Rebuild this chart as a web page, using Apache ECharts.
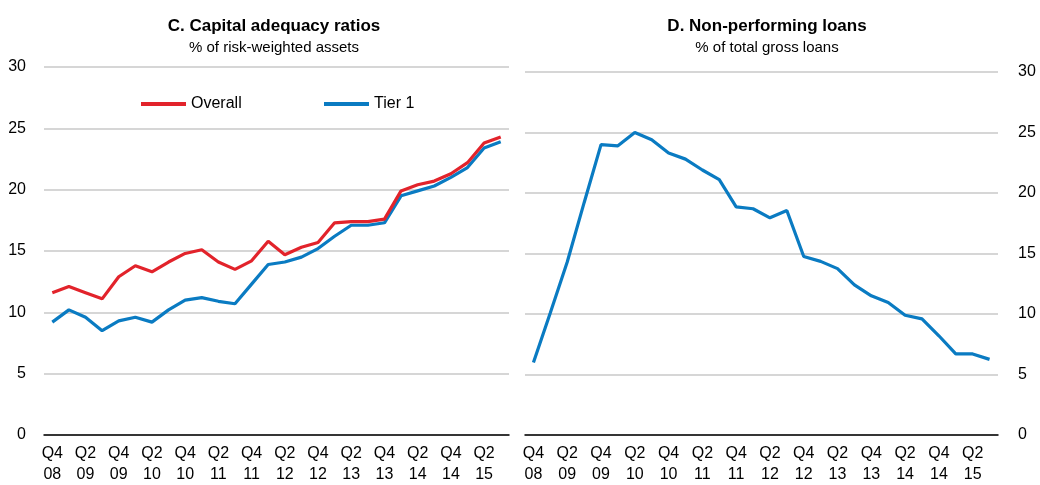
<!DOCTYPE html>
<html>
<head>
<meta charset="utf-8">
<script src="https://cdn.jsdelivr.net/npm/echarts@6/dist/echarts.min.js"></script>
<style>
  html, body { margin: 0; padding: 0; background: #fff; }
  #chart { width: 1040px; height: 485px; }
</style>
</head>
<body>
<div id="chart"></div>
<script>
// quarters, Q4 2008 .. Q3 2015
const quarters = [
  'Q4 08', 'Q1 09', 'Q2 09', 'Q3 09', 'Q4 09', 'Q1 10', 'Q2 10', 'Q3 10',
  'Q4 10', 'Q1 11', 'Q2 11', 'Q3 11', 'Q4 11', 'Q1 12', 'Q2 12', 'Q3 12',
  'Q4 12', 'Q1 13', 'Q2 13', 'Q3 13', 'Q4 13', 'Q1 14', 'Q2 14', 'Q3 14',
  'Q4 14', 'Q1 15', 'Q2 15', 'Q3 15'
];
const yTicks = [0, 5, 10, 15, 20, 25, 30];

// C. Capital adequacy ratios, % of risk-weighted assets
const overall = [
  11.6, 12.1, 11.6, 11.1, 12.9, 13.8, 13.3, 14.1, 14.8, 15.1, 14.1, 13.5, 14.2, 15.8,
  14.7, 15.3, 15.7, 17.3, 17.4, 17.4, 17.6, 19.9, 20.4, 20.7, 21.3, 22.2, 23.8, 24.3
];
const tier1 = [
  9.2, 10.2, 9.6, 8.5, 9.3, 9.6, 9.2, 10.2, 11.0, 11.2, 10.9, 10.7, 12.3, 13.9,
  14.1, 14.5, 15.2, 16.2, 17.1, 17.1, 17.3, 19.5, 19.9, 20.3, 21.0, 21.8, 23.4, 23.9
];

// D. Non-performing loans, % of total gross loans
const npl = [
  6.0, 10.1, 14.3, 19.2, 24.0, 23.9, 25.0, 24.4, 23.3, 22.8, 21.9, 21.1, 18.85, 18.7,
  17.95, 18.55, 14.75, 14.35, 13.75, 12.4, 11.5, 10.95, 9.9, 9.6, 8.2, 6.7, 6.7, 6.25
];

const RED = '#e2232b';
const BLUE = '#0a7bc2';
const FONT = "'Liberation Sans', Arial, sans-serif";

const chart = echarts.init(document.getElementById('chart'));

const xAxisBase = {
  type: 'category',
  data: quarters,
  boundaryGap: true,
  axisLine: { lineStyle: { color: '#000', width: 1.5 } },
  axisTick: { inside: true, length: 5, interval: 0, lineStyle: { color: '#000', width: 1.5 } },
  axisLabel: {
    interval: 1,
    color: '#000',
    fontFamily: FONT,
    fontSize: 16,
    lineHeight: 21,
    margin: 8,
    formatter: (v) => v.replace(' ', '\n')
  },
  splitLine: { show: false }
};

const yAxisBase = {
  type: 'value',
  min: yTicks[0],
  max: yTicks[yTicks.length - 1],
  interval: 5,
  axisLine: { show: false },
  axisTick: { show: false },
  axisLabel: { color: '#000', fontFamily: FONT, fontSize: 16, margin: 18 },
  splitLine: { lineStyle: { color: '#c9c9c9', width: 1.5 } }
};

const option = {
  animation: false,
  backgroundColor: '#fff',
  textStyle: { fontFamily: FONT },
  title: [
    {
      text: 'C. Capital adequacy ratios',
      subtext: '% of risk-weighted assets',
      left: 274, top: 18, textAlign: 'center', padding: 0, itemGap: 5,
      textStyle: { fontFamily: FONT, fontSize: 17, fontWeight: 'bold', color: '#000' },
      subtextStyle: { fontFamily: FONT, fontSize: 15, color: '#000' }
    },
    {
      text: 'D. Non-performing loans',
      subtext: '% of total gross loans',
      left: 767, top: 18, textAlign: 'center', padding: 0, itemGap: 5,
      textStyle: { fontFamily: FONT, fontSize: 17, fontWeight: 'bold', color: '#000' },
      subtextStyle: { fontFamily: FONT, fontSize: 15, color: '#000' }
    }
  ],
  legend: [
    {
      data: ['Overall'], left: 141, top: 96, padding: 0,
      icon: 'rect', itemWidth: 45, itemHeight: 4, itemGap: 6,
      textStyle: { fontFamily: FONT, fontSize: 16, color: '#000' }
    },
    {
      data: ['Tier 1'], left: 324, top: 96, padding: 0,
      icon: 'rect', itemWidth: 45, itemHeight: 4, itemGap: 6,
      textStyle: { fontFamily: FONT, fontSize: 16, color: '#000' }
    }
  ],
  grid: [
    { left: 44, top: 67, width: 465, height: 370 },
    { left: 525, top: 72, width: 473, height: 369 }
  ],
  xAxis: [
    Object.assign({}, xAxisBase, { gridIndex: 0 }),
    Object.assign({}, xAxisBase, { gridIndex: 1 })
  ],
  yAxis: [
    Object.assign({}, yAxisBase, { gridIndex: 0, position: 'left' }),
    Object.assign({}, yAxisBase, {
      gridIndex: 1, position: 'right',
      axisLabel: Object.assign({}, yAxisBase.axisLabel, { margin: 20 })
    })
  ],
  series: [
    {
      name: 'Overall', type: 'line', xAxisIndex: 0, yAxisIndex: 0,
      data: overall, showSymbol: false, color: RED,
      lineStyle: { width: 3.2, color: RED }, z: 3
    },
    {
      name: 'Tier 1', type: 'line', xAxisIndex: 0, yAxisIndex: 0,
      data: tier1, showSymbol: false, color: BLUE,
      lineStyle: { width: 3.2, color: BLUE }, z: 2
    },
    {
      name: 'Non-performing loans', type: 'line', xAxisIndex: 1, yAxisIndex: 1,
      data: npl, showSymbol: false, color: BLUE,
      lineStyle: { width: 3.2, color: BLUE }
    }
  ]
};

chart.setOption(option);
</script>
</body>
</html>
